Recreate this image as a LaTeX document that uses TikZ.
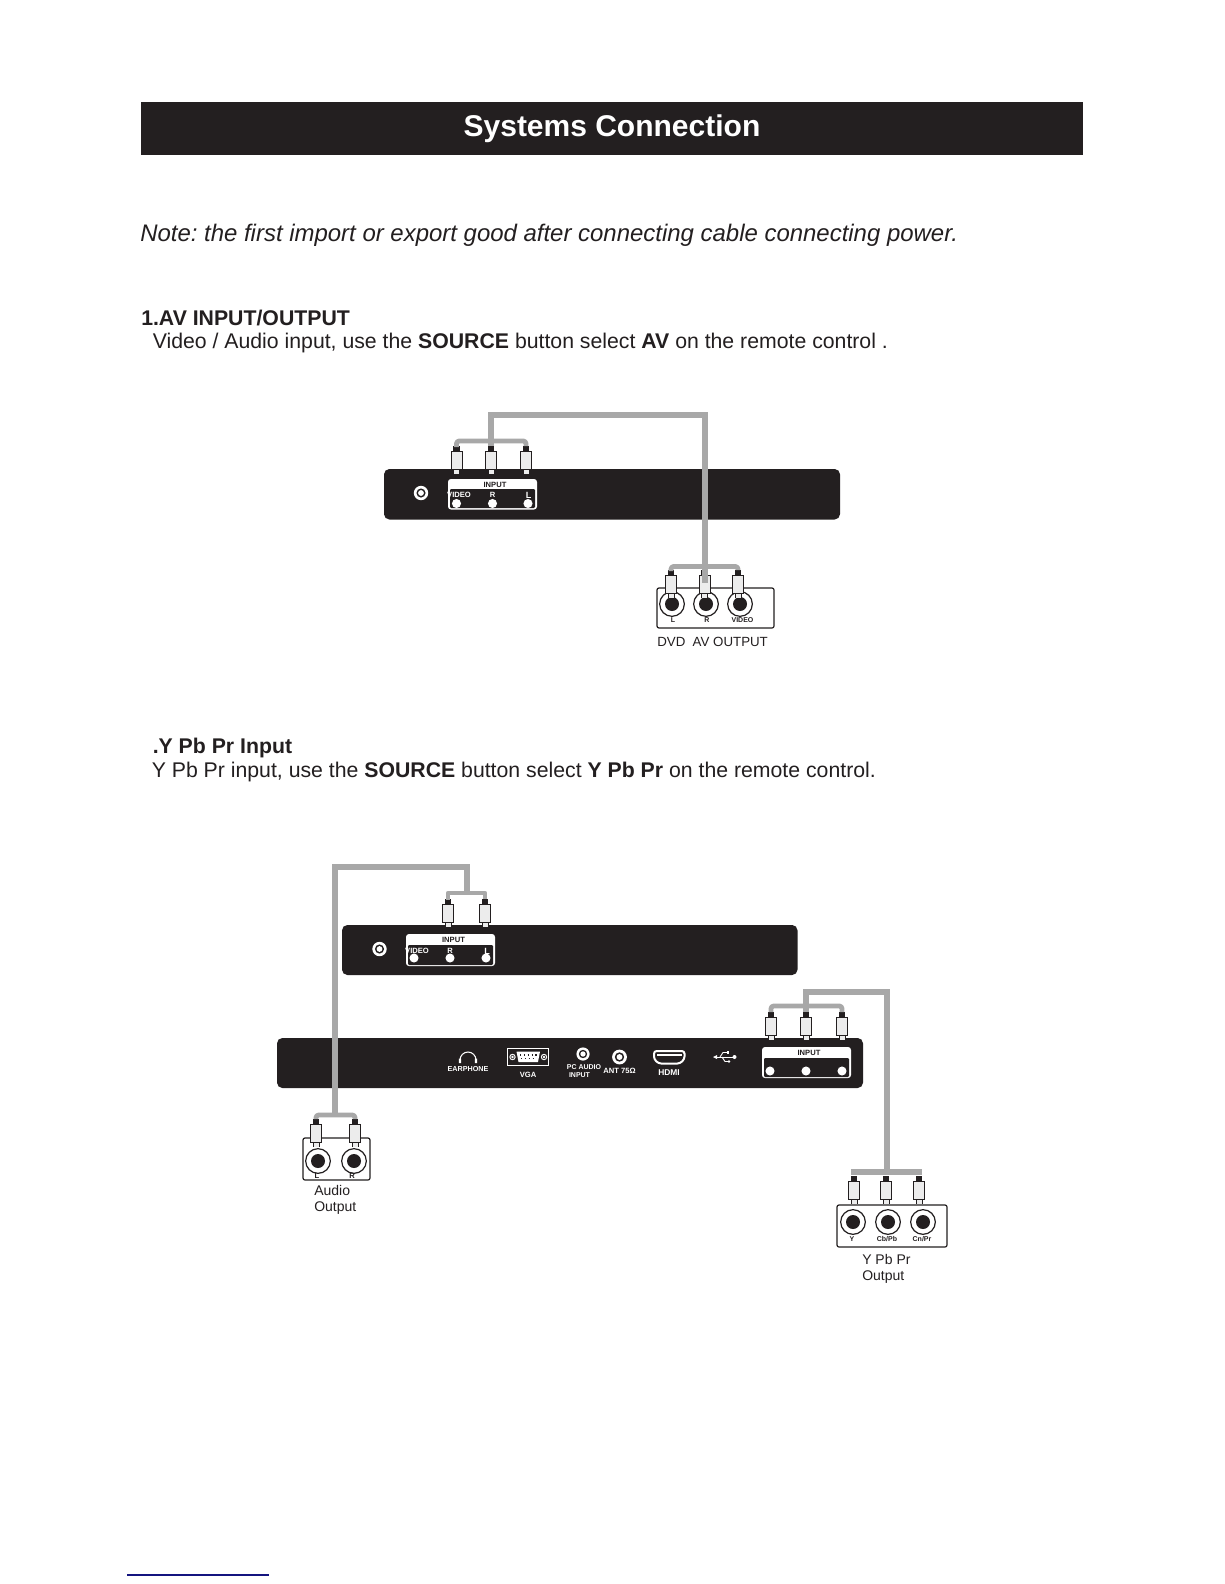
\documentclass[tikz,border=0pt]{standalone}
\usepackage{fontspec}
\setmainfont{Liberation Sans}
\usetikzlibrary{fit}
\definecolor{ink}{HTML}{231F20}
\definecolor{cablegray}{HTML}{A8A8A8}
\definecolor{plugbody}{HTML}{ECECEC}
\definecolor{rulenavy}{HTML}{14147F}
\newcommand{\setpx}[1]{\fontsize{\dimexpr#1pt*3/4\relax}{\dimexpr#1pt\relax}\selectfont}
\tikzset{
  x=0.75pt,y=-0.75pt,
  panel/.style={fill=ink,draw=none,rounded corners=4pt,inner sep=0pt},
  whitebox/.style={fill=white,draw=none,rounded corners=2.2pt,inner sep=0pt},
  inkbox/.style={fill=ink,draw=none,rounded corners=0.8pt,inner sep=0pt},
  outbox/.style={fill=white,draw=ink,line width=0.9pt,rounded corners=1.5pt,inner sep=0pt},
  bartitle/.style={fill=ink,draw=none,inner sep=0pt},
  txt/.style={text=ink,inner sep=0pt,anchor=west},
  lbl/.style={text=ink,inner sep=0pt,anchor=west,font=\setpx{14}},
  tiny/.style={inner sep=0pt,font=\bfseries\setpx{7.6}},
  tinyw/.style={tiny,text=white},
  tinyk/.style={tiny,text=ink},
  thickcable/.style={draw=cablegray,line width=4.9pt,line join=miter},
  thincable/.style={draw=cablegray,line width=3.6pt,line join=round},
  jackdot/.style={circle,fill=white,draw=none,minimum size=6.8pt,inner sep=0pt},
  jackout/.style={circle,fill=white,draw=ink,line width=0.9pt,minimum size=18.5pt,inner sep=0pt},
  jackin/.style={circle,fill=ink,draw=none,minimum size=10.5pt,inner sep=0pt},
  ringw/.style={circle,fill=white,draw=none,inner sep=0pt},
  ringk/.style={circle,fill=ink,draw=none,inner sep=0pt},
}
% plug: name, x, top y
\newcommand{\plug}[3]{%
  \fill[ink] (#2-3.2,#3) rectangle (#2+3.2,#3+6);
  \filldraw[fill=plugbody,draw=ink,line width=0.75pt] (#2-5.5,#3+5.5) rectangle (#2+5.5,#3+23.5);
  \fill[plugbody] (#2-2.5,#3+24) rectangle (#2+2.5,#3+28);
  \draw[ink,line width=0.6pt] (#2-3,#3+24) -- (#2-3,#3+28) (#2+3,#3+24) -- (#2+3,#3+28);
  \coordinate (#1) at (#2,#3);
}
\newcommand{\rca}[3]{%
  \node[jackout] (#1) at (#2,#3) {};
  \node[jackin] at (#1) {};
}
\newcommand{\socket}[4]{%
  \node[ringw,minimum size=#4*1.5pt] (#1) at (#2,#3) {};
  \node[ringk,minimum size=#4*0.95pt] at (#1) {};
  \node[ringw,minimum size=#4*0.6pt] at (#1) {};
}
\begin{document}
\frenchspacing
\begin{tikzpicture}
\useasboundingbox (0,0) rectangle (1224,1584);
\fill[white] (0,0) rectangle (1224,1584);

% heading
\node[bartitle,fit={(140.5,102)(1083,155)}] (titlebar) {};
\node[text=white,inner sep=0pt,font=\bfseries\setpx{30}] (title) at (612,128.5) {Systems Connection};
\node[txt,font=\itshape\setpx{23.95}] (note) at (140,235.5) {Note: the first import or export good after connecting cable connecting power.};

\node[txt,font=\bfseries\setpx{21.25}] (sec1) at (141,318) {1.AV INPUT/OUTPUT};
\node[txt,font=\setpx{21.25}] (sec1b) at (152.5,343) {Video / Audio input, use the \textbf{SOURCE} button select \textbf{AV} on the remote control .};
\node[txt,font=\bfseries\setpx{21.25}] (sec2) at (152.5,747.5) {.Y Pb Pr Input};
\node[txt,font=\setpx{21.25}] (sec2b) at (151.5,771.5) {Y Pb Pr input, use the \textbf{SOURCE} button select \textbf{Y Pb Pr} on the remote control.};

% ---------- AV diagram
\node[panel,fit={(384,469)(840,519.5)}] (panelA) {};
\socket{sockA}{421}{493}{7.2}
\node[whitebox,fit={(448,479)(537,509.5)}] (inA) {};
\node[inkbox,fit={(450,489)(535,508)}] (inAk) {};
\node[tinyk] (inAt) at (495,485) {INPUT};
\node[jackdot] (jA1) at (456.5,503.5) {};
\node[jackdot] (jA2) at (492.5,503.5) {};
\node[jackdot] (jA3) at (528,503.5) {};
\node[tinyw] (lA1) at (459,495) {VIDEO};
\node[tinyw] (lA2) at (492.5,495) {R};
\node[tinyw,font=\bfseries\setpx{9}] (lA3) at (528.5,495) {L};

\plug{pA1}{456.5}{446}
\plug{pA2}{491}{446}
\plug{pA3}{526}{446}

\node[outbox,fit={(657,588)(774,628)}] (dvd) {};
\rca{dA1}{672}{604}
\rca{dA2}{706}{604}
\rca{dA3}{740}{604}
\node[tinyk,font=\bfseries\setpx{7}] (ldA1) at (673,620) {L};
\node[tinyk,font=\bfseries\setpx{7}] (ldA2) at (707,620) {R};
\node[tinyk,font=\bfseries\setpx{7}] (ldA3) at (742.5,620) {VIDEO};
\plug{oA1}{671}{570}
\plug{oA2}{704.5}{570}
\plug{oA3}{738}{570}
\node[lbl,font=\setpx{13.3}] (dvdt) at (657,641.5) {DVD\ \ AV OUTPUT};

\coordinate (avTopL) at (491,415);
\coordinate (avTopR) at (705,415);
\coordinate (avEnd) at (705,583);
\draw[thincable,rounded corners=2pt] (pA1) ++(0,1) |- (491,441) -| (pA3);
\draw[thickcable] (pA2) -- (avTopL) -- (avTopR) -- (avEnd);
\draw[thincable,rounded corners=2pt] (oA1) ++(0,1) |- (704,566.5) -| (oA3);

% ---------- Y Pb Pr diagram, top panel
\node[panel,fit={(342,925)(797.5,975)}] (panelB) {};
\socket{sockB}{379.5}{949}{7.2}
\node[whitebox,fit={(406,934)(495,966)}] (inB) {};
\node[inkbox,fit={(408,945)(493,965)}] (inBk) {};
\node[tinyk] (inBt) at (453.5,940) {INPUT};
\node[jackdot] (jB1) at (414,958) {};
\node[jackdot] (jB2) at (450,958) {};
\node[jackdot] (jB3) at (486,958) {};
\node[tinyw] (lB1) at (417,951) {VIDEO};
\node[tinyw] (lB2) at (450,951) {R};
\node[tinyw,font=\bfseries\setpx{9}] (lB3) at (487,951) {L};
\plug{pB1}{448}{899}
\plug{pB2}{485}{899}

% rear panel
\node[panel,fit={(277,1038)(863,1088)}] (panelC) {};
\draw[white,line width=0.8pt] (460,1060) arc[start angle=180,end angle=360,radius=8];
\fill[white] (458.8,1058.5) rectangle (461.2,1063) (474.8,1058.5) rectangle (477.2,1063);
\node[tinyw,font=\bfseries\setpx{7.2}] (lEar) at (468,1069) {EARPHONE};
\node[draw=white,line width=1.1pt,fill=ink,inner sep=0pt,fit={(507.5,1048.5)(548.5,1065.5)}] (vga) {};
\socket{vgaA}{512.5}{1057}{3.2}
\socket{vgaB}{544}{1057}{3.2}
\filldraw[fill=white,draw=none] (516.5,1051.5) -- (540,1051.5) -- (538,1062) -- (518.5,1062) -- cycle;
\draw[ink,line width=0.9pt,dotted] (520,1055) -- (537,1055) (521,1058.5) -- (536,1058.5);
\node[tinyw] (lVga) at (528,1075) {VGA};
\socket{sockPc}{583}{1054}{6.6}
\node[tinyw,font=\bfseries\setpx{7}] (lPc) at (584,1067) {PC AUDIO};
\node[tinyw,font=\bfseries\setpx{7}] (lPc2) at (579.5,1075) {INPUT};
\socket{sockAnt}{619.5}{1057}{7.4}
\node[tinyw] (lAnt) at (619.5,1071) {ANT\ 75Ω};
\draw[white,line width=1.5pt,rounded corners=2pt,fill=ink] (654,1051) -- (684.5,1051) -- (684.5,1059) -- (680,1063.5) -- (658.5,1063.5) -- (654,1059) -- cycle;
\fill[white] (657,1053.5) rectangle (681.5,1056);
\node[tinyw,font=\bfseries\setpx{8.4}] (lHdmi) at (669,1073) {HDMI};
\draw[white,line width=0.7pt] (716,1057) -- (733,1057);
\fill[white] (713,1057) -- (717,1055) -- (717,1059) -- cycle;
\fill[white] (734.5,1057) circle[radius=2];
\draw[white,line width=0.7pt] (720,1057) -- (723,1052.5) -- (727,1052.5);
\fill[white] (727,1051.3) rectangle (729.4,1053.7);
\draw[white,line width=0.7pt] (722,1057) -- (725,1061.5) -- (728,1061.5);
\fill[white] (729,1061.5) circle[radius=1.3];
\node[whitebox,fit={(762,1047)(851,1078)}] (inC) {};
\node[inkbox,fit={(764,1058)(849,1077)}] (inCk) {};
\node[tinyk] (inCt) at (809,1053) {INPUT};
\node[jackdot] (jC1) at (770,1071) {};
\node[jackdot] (jC2) at (806,1071) {};
\node[jackdot] (jC3) at (842,1071) {};
\plug{pC1}{771}{1012}
\plug{pC2}{806}{1012}
\plug{pC3}{842}{1012}

% audio output box
\node[outbox,fit={(303,1138)(370,1180)}] (audio) {};
\rca{au1}{318}{1161}
\rca{au2}{354}{1161}
\node[tinyk] (lAu1) at (317,1176) {L};
\node[tinyk] (lAu2) at (352,1176) {R};
\plug{oB1}{316}{1119}
\plug{oB2}{355}{1119}
\node[lbl] (auT1) at (314,1190.5) {Audio};
\node[lbl] (auT2) at (314,1208) {Output};

% Y Pb Pr output box
\node[outbox,fit={(837,1205)(947,1247)}] (ypp) {};
\rca{yp1}{853}{1222}
\rca{yp2}{888}{1222}
\rca{yp3}{923}{1222}
\node[tinyk,font=\bfseries\setpx{7}] (lYp1) at (852,1239) {Y};
\node[tinyk,font=\bfseries\setpx{7}] (lYp2) at (887,1239) {Cb/Pb};
\node[tinyk,font=\bfseries\setpx{7}] (lYp3) at (922,1239) {Cn/Pr};
\plug{oC1}{854}{1176}
\plug{oC2}{886}{1176}
\plug{oC3}{919}{1176}
\node[lbl] (ypT1) at (862,1259.5) {Y Pb Pr};
\node[lbl] (ypT2) at (862,1277.5) {Output};

% cables of the second diagram
\coordinate (auTop) at (335,867);
\coordinate (auTopR) at (467,867);
\coordinate (auJoinT) at (467,893);
\coordinate (auJoinB) at (335,1115);
\draw[thincable] (pB1) ++(0,1) |- (pB2 |- auJoinT) -- (pB2);
\draw[thickcable] (auJoinB) -- (auTop) -- (auTopR) -- (auJoinT);
\draw[thincable,rounded corners=2pt] (oB1) |- (oB2 |- auJoinB) -- (oB2);

\coordinate (ypTopL) at (806,992);
\coordinate (ypTopR) at (887,992);
\coordinate (ypJoinB) at (887,1172);
\draw[thincable,rounded corners=2pt] (pC1) |- (pC3 |- 0,1006) -- (pC3);
\draw[thickcable] (pC2) -- (ypTopL) -- (ypTopR) -- (ypJoinB);
\draw[cablegray,line width=4.4pt] (851,1172) -- (ypJoinB) -- (922,1172);

% footnote rule
\coordinate (ruleL) at (127,1575);
\coordinate (ruleR) at (269,1575);
\draw[rulenavy,line width=0.8pt] (ruleL) -- (ruleR);
\end{tikzpicture}
\end{document}
